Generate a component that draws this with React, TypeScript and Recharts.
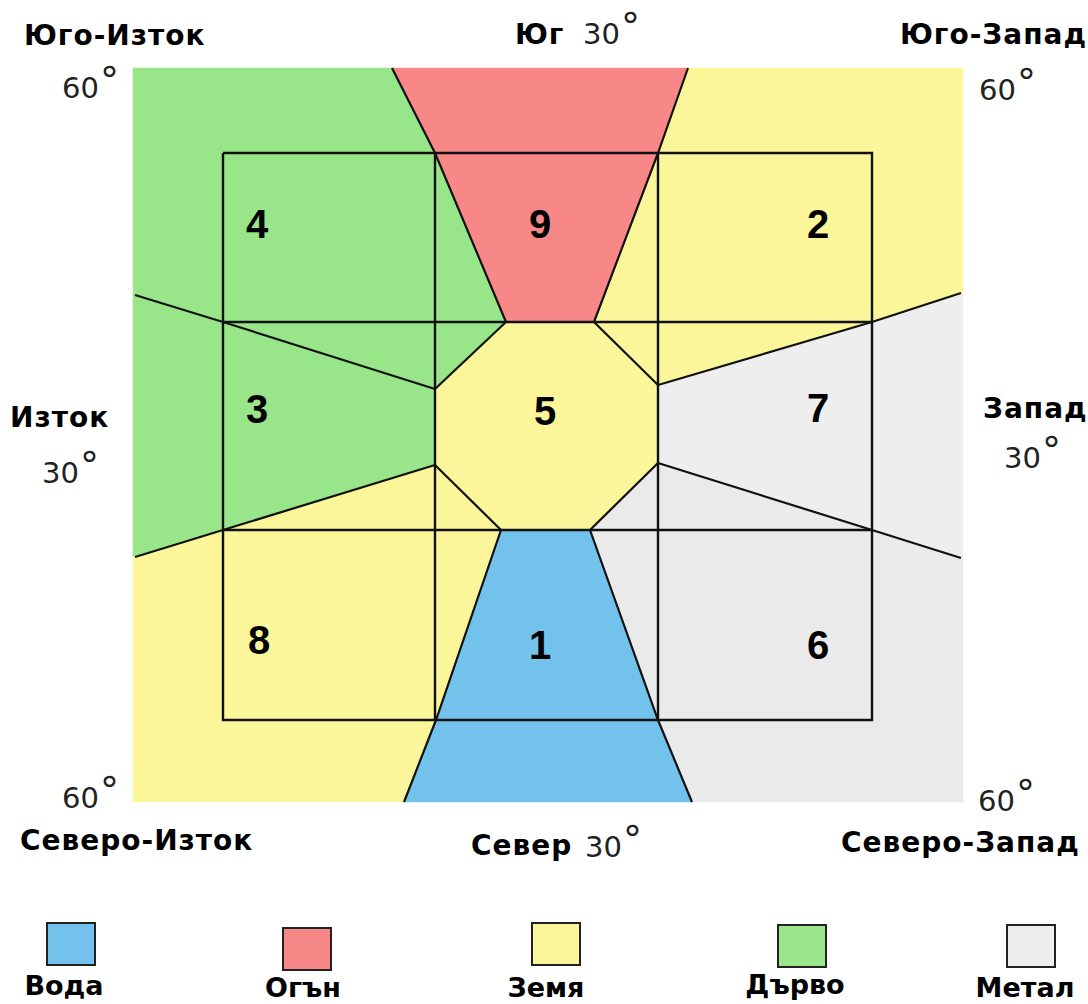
import React from "react";
import { ScatterChart, Scatter, XAxis, YAxis, Legend } from "recharts";

type Pt = [number, number];

// element colours
const WATER = "#73c2ec";
const FIRE = "#f88888";
const EARTH = "#fcf69b";
const WOOD = "#98e689";
const METAL = "#eeeeee";
const METAL_NW = "#eaeaea";

// region outlines (drawing units, x to the right, y downwards)
const WOOD_EAST: Pt[] = [[133, 68], [392, 68], [435, 153], [506, 322], [435, 389], [435, 465], [223, 530], [133, 557]];
const FIRE_SOUTH: Pt[] = [[392, 68], [688, 68], [658, 153], [594, 322], [506, 322], [435, 153]];
const EARTH_SW: Pt[] = [[688, 68], [963, 68], [963, 293], [872, 322], [658, 385], [594, 322], [658, 153]];
const METAL_WEST: Pt[] = [[963, 293], [872, 322], [658, 385], [658, 463], [872, 530], [963, 558]];
const METAL_NWEST: Pt[] = [[963, 558], [872, 530], [658, 463], [590, 530], [658, 720], [692, 802], [963, 802]];
const WATER_NORTH: Pt[] = [[501, 530], [590, 530], [658, 720], [692, 802], [404, 802], [436, 720]];
const EARTH_NE: Pt[] = [[133, 557], [223, 530], [435, 465], [501, 530], [436, 720], [404, 802], [133, 802]];
const EARTH_CENTRE: Pt[] = [[506, 322], [594, 322], [658, 385], [658, 463], [590, 530], [501, 530], [435, 465], [435, 389]];

// lo shu grid
const GRID_LINES: Pt[][] = [
  [[223, 153], [872, 153], [872, 720], [223, 720], [223, 153]],
  [[435, 153], [435, 720]],
  [[658, 153], [658, 720]],
  [[223, 322], [872, 322]],
  [[223, 530], [872, 530]],
];

// borders between the sectors
const SECTOR_LINES: Pt[][] = [
  [[392, 68], [435, 153], [506, 322]],
  [[688, 68], [658, 153], [594, 322]],
  [[501, 530], [436, 720], [404, 802]],
  [[590, 530], [658, 720], [692, 802]],
  [[506, 322], [435, 389]],
  [[594, 322], [658, 385]],
  [[658, 463], [590, 530]],
  [[501, 530], [435, 465]],
  [[135, 295], [223, 322], [435, 389]],
  [[135, 557], [223, 530], [435, 465]],
  [[961, 293], [872, 322], [658, 385]],
  [[961, 558], [872, 530], [658, 463]],
];

const CELL_NUMBERS = ["4", "9", "2", "3", "5", "7", "8", "1", "6"];
const CELL_POS: Pt[] = [[257, 224], [540, 224], [818, 224], [257, 409], [545, 411], [818, 408], [259, 640], [540, 645], [818, 645]];

const DIRECTION_NAMES = ["Юго-Изток", "Юг", "Юго-Запад", "Изток", "Запад", "Северо-Изток", "Север", "Северо-Запад"];
const DIRECTION_POS: Pt[] = [[24, 45], [515, 44], [900, 44], [10, 427], [983, 418], [20, 850], [471, 855], [841, 852]];

const DEGREES = ["60", "30", "60", "30", "30", "60", "30", "60"];
const DEGREE_POS: Pt[] = [[62, 98], [583, 44], [979, 100], [42, 483], [1004, 468], [62, 808], [585, 857], [978, 811]];

const ELEMENT_NAMES = ["Вода", "Огън", "Земя", "Дърво", "Метал"];
const ELEMENT_COLORS = [WATER, FIRE, EARTH, WOOD, METAL];

// legend layout (px inside the legend strip)
const SWATCH_X = [47, 283, 532, 778, 1007];
const SWATCH_Y = [23, 28, 23, 25, 25];
const NAME_X = [64, 303, 546, 795, 1025];
const NAME_Y = [95, 97, 97, 94, 97];

const REGIONS: { points: Pt[]; fill: string }[] = [
  { points: WOOD_EAST, fill: WOOD },
  { points: FIRE_SOUTH, fill: FIRE },
  { points: EARTH_SW, fill: EARTH },
  { points: METAL_WEST, fill: METAL },
  { points: METAL_NWEST, fill: METAL_NW },
  { points: WATER_NORTH, fill: WATER },
  { points: EARTH_NE, fill: EARTH },
  { points: EARTH_CENTRE, fill: EARTH },
];

const toXY = (pts: Pt[]) => pts.map(([x, y]) => ({ x, y }));
const Hidden = () => <g />;

const pathOf = (pts: { x: number; y: number }[]) =>
  pts.map((p, i) => `${i ? "L" : "M"}${p.x},${p.y}`).join(" ");

function polygonLine(fill: string) {
  return (props: any) => (
    <path d={pathOf(props.points || []) + " Z"} fill={fill} stroke={fill} strokeWidth={0.5} />
  );
}

function strokeLine(width: number) {
  return (props: any) => (
    <path d={pathOf(props.points || [])} fill="none" stroke="#111" strokeWidth={width}
      strokeLinejoin="miter" />
  );
}

const cellData = CELL_POS.map(([x, y], i) => ({ x, y, label: CELL_NUMBERS[i] }));
const nameData = DIRECTION_POS.map(([x, y], i) => ({ x, y, label: DIRECTION_NAMES[i] }));
const degreeData = DEGREE_POS.map(([x, y], i) => ({ x, y, label: DEGREES[i] }));

const CellText = (p: any) => (
  <text x={p.cx} y={p.cy} textAnchor="middle" dominantBaseline="central"
    fontFamily="'Liberation Sans', Arial, sans-serif" fontWeight="bold" fontSize={40} fill="#000">
    {p.payload.label}
  </text>
);

const NameText = (p: any) => (
  <text x={p.cx} y={p.cy} fontFamily="'DejaVu Sans', sans-serif" fontWeight="bold" fontSize={28}
    letterSpacing={1} fill="#000">
    {p.payload.label}
  </text>
);

const DegreeText = (p: any) => (
  <text x={p.cx} y={p.cy} fontFamily="'DejaVu Sans', sans-serif" fontSize={29} fill="#222">
    {p.payload.label}
    <tspan dy={-5} dx={1} fontSize={38}>°</tspan>
  </text>
);

function ElementKey() {
  return (
    <div style={{ width: 1088, height: 104 }}>
      <svg width={1088} height={104} style={{ display: "block" }}>
        {ELEMENT_NAMES.map((name, i) => (
          <g key={name}>
            <rect x={SWATCH_X[i]} y={SWATCH_Y[i]} width={48} height={42}
              fill={ELEMENT_COLORS[i]} stroke="#222" strokeWidth={2} />
            <text x={NAME_X[i]} y={NAME_Y[i]} textAnchor="middle"
              fontFamily="'DejaVu Sans', sans-serif" fontWeight="bold" fontSize={27} fill="#000">
              {name}
            </text>
          </g>
        ))}
      </svg>
    </div>
  );
}

export default function App() {
  return (
    <div style={{ position: "absolute", left: 0, top: 0, width: 1088, height: 1004, background: "#fff" }}>
      <ScatterChart width={1088} height={1004} margin={{ top: 0, right: 0, bottom: 0, left: 0 }}>
        <XAxis type="number" dataKey="x" domain={[0, 1088]} allowDataOverflow hide />
        <YAxis type="number" dataKey="y" domain={[0, 900]} allowDataOverflow reversed hide />
        {REGIONS.map((r, i) => (
          <Scatter key={`region-${i}`} data={toXY(r.points)} line={polygonLine(r.fill)}
            shape={Hidden} legendType="none" isAnimationActive={false} />
        ))}
        {GRID_LINES.map((l, i) => (
          <Scatter key={`grid-${i}`} data={toXY(l)} line={strokeLine(2.4)}
            shape={Hidden} legendType="none" isAnimationActive={false} />
        ))}
        {SECTOR_LINES.map((l, i) => (
          <Scatter key={`sector-${i}`} data={toXY(l)} line={strokeLine(2.2)}
            shape={Hidden} legendType="none" isAnimationActive={false} />
        ))}
        <Scatter data={cellData} shape={CellText} legendType="none" isAnimationActive={false} />
        <Scatter data={nameData} shape={NameText} legendType="none" isAnimationActive={false} />
        <Scatter data={degreeData} shape={DegreeText} legendType="none" isAnimationActive={false} />
        <Legend verticalAlign="bottom" height={104} content={() => <ElementKey />} />
      </ScatterChart>
    </div>
  );
}
